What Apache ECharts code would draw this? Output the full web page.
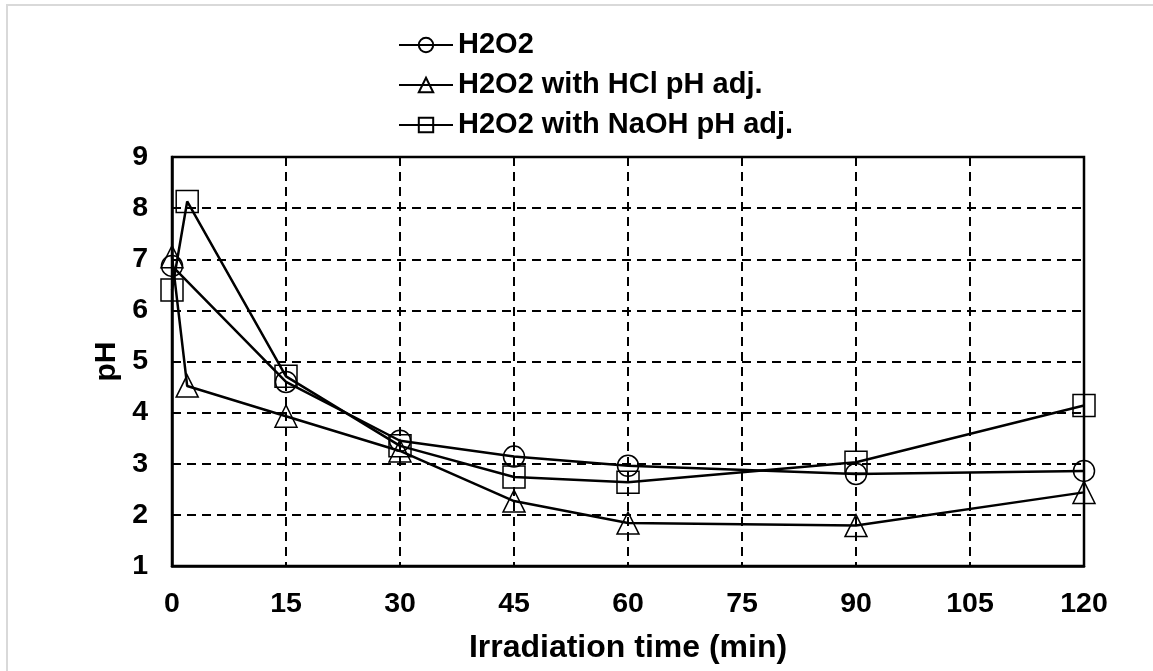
<!DOCTYPE html>
<html>
<head>
<meta charset="utf-8">
<script src="https://cdn.jsdelivr.net/npm/echarts@6/dist/echarts.min.js"></script>
<style>
html,body{margin:0;padding:0;background:#fff;}
#chart{width:1153px;height:671px;}
</style>
</head>
<body>
<div id="chart"></div>
<script>
// Data
const seriesNames = ['H2O2', 'H2O2 with HCl pH adj.', 'H2O2 with NaOH pH adj.'];
const timeH2O2 = [0, 15, 30, 45, 60, 90, 120];
const phH2O2 = [6.87, 4.60, 3.45, 3.14, 2.96, 2.80, 2.86];
const timeHCl = [0, 2, 15, 30, 45, 60, 90, 120];
const phHCl = [7.05, 4.52, 3.93, 3.25, 2.27, 1.84, 1.79, 2.44];
const timeNaOH = [0, 2, 15, 30, 45, 60, 90, 120];
const phNaOH = [6.40, 8.13, 4.71, 3.35, 2.74, 2.64, 3.03, 4.14];
const xTicks = [0, 15, 30, 45, 60, 75, 90, 105, 120];
const yTicks = [1, 2, 3, 4, 5, 6, 7, 8, 9];

const FONT = '"Liberation Sans", Arial, sans-serif';
function pairs(xs, ys) { return xs.map((x, i) => [x, ys[i]]); }

const chart = echarts.init(document.getElementById('chart'), null, {renderer: 'canvas'});

function mkSeries(name, xs, ys, symbol, size) {
  return {
    name: name,
    type: 'line',
    data: pairs(xs, ys),
    symbol: symbol,
    symbolSize: size,
    showAllSymbol: true,
    lineStyle: {color: '#000', width: 2.5},
    itemStyle: {color: 'rgba(255,255,255,0)', borderColor: '#000', borderWidth: 1.5},
    emphasis: {disabled: true},
    animation: false
  };
}

const option = {
  animation: false,
  backgroundColor: '#fff',
  graphic: [{
    type: 'rect',
    shape: {x: 7, y: 5, width: 1200, height: 720},
    style: {fill: 'none', stroke: '#d9d9d9', lineWidth: 2},
    silent: true
  }],
  legend: {
    orient: 'vertical',
    left: 398,
    top: 30,
    padding: 0,
    itemWidth: 54,
    itemHeight: 18,
    itemGap: 10,
    data: seriesNames,
    textStyle: {fontFamily: FONT, fontWeight: 'bold', fontSize: 29, color: '#000', lineHeight: 30},
    selectedMode: false
  },
  grid: {
    left: 172, right: 69, top: 157, bottom: 105,
    show: true, borderColor: '#000', borderWidth: 2.5, backgroundColor: 'transparent'
  },
  xAxis: {
    type: 'value',
    min: 0, max: 120, interval: 15,
    name: 'Irradiation time (min)',
    nameLocation: 'middle',
    nameGap: 66,
    nameTextStyle: {fontFamily: FONT, fontWeight: 'bold', fontSize: 32, color: '#000'},
    axisLine: {show: true, lineStyle: {color: '#000', width: 2.5}},
    axisTick: {show: false},
    axisLabel: {
      fontFamily: FONT, fontWeight: 'bold', fontSize: 28.5, color: '#000', margin: 24,
      formatter: v => xTicks.includes(v) ? String(v) : ''
    },
    splitLine: {show: true, lineStyle: {color: '#000', width: 2, type: [9, 6]}}
  },
  yAxis: {
    type: 'value',
    min: 1, max: 9, interval: 1,
    name: 'pH',
    nameLocation: 'middle',
    nameGap: 48,
    nameRotate: 90,
    nameTextStyle: {fontFamily: FONT, fontWeight: 'bold', fontSize: 30, color: '#000'},
    axisLine: {show: true, lineStyle: {color: '#000', width: 2.5}},
    axisTick: {show: false},
    axisLabel: {
      fontFamily: FONT, fontWeight: 'bold', fontSize: 28.5, color: '#000', margin: 24,
      formatter: v => yTicks.includes(v) ? String(v) : ''
    },
    splitLine: {show: true, lineStyle: {color: '#000', width: 2, type: [9, 6]}}
  },
  series: [
    mkSeries(seriesNames[0], timeH2O2, phH2O2, 'circle', 21),
    mkSeries(seriesNames[1], timeHCl, phHCl, 'triangle', 22),
    mkSeries(seriesNames[2], timeNaOH, phNaOH, 'rect', 22)
  ]
};
chart.setOption(option);
</script>
</body>
</html>
